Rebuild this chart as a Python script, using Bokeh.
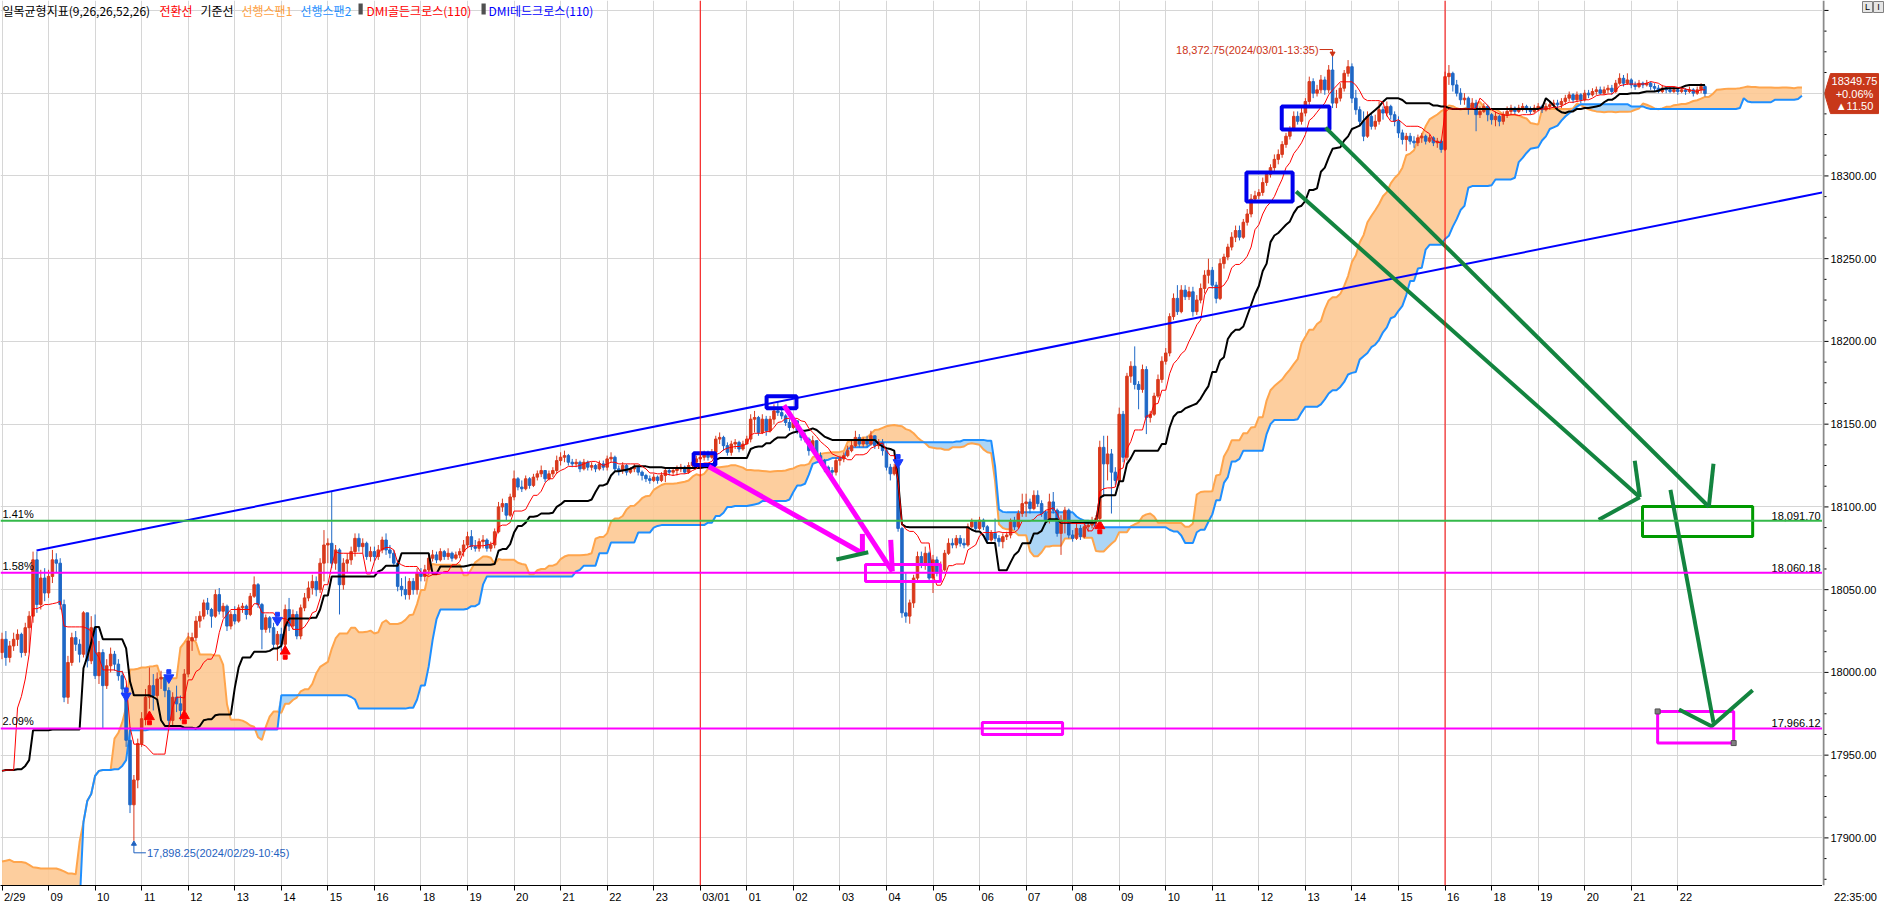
import numpy as np
import pandas as pd
from bokeh.plotting import figure
from bokeh.layouts import row
from bokeh.models import ColumnDataSource, FixedTicker, Range1d, Label, Span, Grid, LinearAxis
from bokeh.core.properties import value
from bokeh.embed import file_html
from bokeh.resources import INLINE

# ---------------- data ----------------
tick_labels = ["2/29", "09", "10", "11", "12", "13", "14", "15", "16", "18", "19", "20", "21", "22", "23",
               "03/01", "01", "02", "03", "04", "05", "06", "07", "08", "09", "10", "11", "12", "13", "14",
               "15", "16", "18", "19", "20", "21", "22"]
bars_per_tick = 12
session_ticks = [15, 31]          # red separators at "03/01" and the second "16"
last_time = "22:35:00"

# bars before the visible window (only feed the indicators)
pre_close = [17918, 17922, 17915, 17920, 17926, 17930, 17924, 17919, 17912, 17916, 17921, 17928, 17932, 17927, 17920,
             17914, 17909, 17913, 17905, 17898, 17860,
             17866, 17862, 17870, 17866, 17875, 17881, 17872, 17868, 17877, 17885, 17890, 17884, 17879, 17886, 17893, 17888,
             17895, 17901, 17896, 17889, 17882, 17876, 17870, 17878, 17885, 17891, 17897, 17904, 17899, 17893, 17887, 17880,
             17874, 17868, 17875, 17882, 17890, 17886, 17879, 17872, 17867, 17873, 17880, 17876, 17870, 17866, 17872, 17878,
             17871, 17865, 17935, 17958, 17975, 17992, 18012]
pre_high = [17924, 17927, 17923, 17924, 17930, 17935, 17931, 17925, 17920, 17919, 17925, 17932, 17937, 17934, 17927,
            17921, 17916, 17917, 17912, 17906, 17900,
            17870, 17868, 17874, 17872, 17879, 17886, 17883, 17874, 17880, 17889, 17895, 17892, 17886, 17890, 17897, 17895,
            17899, 17906, 17903, 17898, 17891, 17884, 17878, 17881, 17888, 17895, 17901, 17908, 17906, 17901, 17895, 17889,
            17882, 17876, 17879, 17886, 17894, 17893, 17889, 17881, 17874, 17877, 17884, 17883, 17878, 17872, 17876, 17882,
            17880, 17872, 17938, 17962, 17988, 17996, 18018]
pre_low = [17912, 17915, 17911, 17913, 17918, 17924, 17920, 17914, 17907, 17908, 17914, 17919, 17926, 17921, 17914,
           17907, 17903, 17905, 17898, 17890, 17780,
           17858, 17859, 17861, 17862, 17863, 17872, 17868, 17861, 17865, 17875, 17883, 17878, 17874, 17877, 17884, 17882,
           17886, 17893, 17892, 17885, 17878, 17872, 17866, 17868, 17876, 17882, 17888, 17895, 17896, 17889, 17883, 17876,
           17870, 17863, 17866, 17873, 17880, 17883, 17876, 17869, 17862, 17864, 17871, 17872, 17866, 17861, 17864, 17870,
           17868, 17860, 17857, 17931, 17945, 17962, 17985]

# 5-minute bars, one row per hour label
close_rows = [
    [18020, 18009, 18016, 18020, 18023, 18012, 18027, 18034, 18068, 18041, 18057, 18048],
    [18058, 18068, 18066, 18041, 17985, 18006, 18021, 18017, 18011, 18036, 18007, 18027],
    [17998, 18012, 17992, 18004, 18011, 18005, 17998, 17990, 17959, 17920, 17935, 17957],
    [17972, 17985, 17992, 17986, 17996, 17997, 17989, 17971, 17985, 17981, 17977, 17999],
    [18019, 18021, 18031, 18034, 18042, 18038, 18034, 18047, 18037, 18040, 18028, 18035],
    [18031, 18039, 18040, 18035, 18046, 18053, 18041, 18026, 18033, 18027, 18017, 18023],
    [18017, 18038, 18028, 18035, 18022, 18039, 18045, 18051, 18055, 18050, 18066, 18077],
    [18078, 18066, 18074, 18053, 18066, 18068, 18073, 18081, 18076, 18078, 18070, 18073],
    [18070, 18074, 18080, 18074, 18072, 18066, 18052, 18050, 18047, 18055, 18050, 18060],
    [18058, 18062, 18069, 18071, 18068, 18073, 18070, 18072, 18069, 18071, 18073, 18077],
    [18082, 18076, 18075, 18079, 18080, 18075, 18077, 18085, 18100, 18102, 18095, 18106],
    [18117, 18112, 18111, 18117, 18113, 18118, 18120, 18122, 18117, 18120, 18122, 18128],
    [18130, 18131, 18127, 18126, 18127, 18123, 18127, 18124, 18125, 18123, 18126, 18124],
    [18129, 18130, 18123, 18122, 18125, 18121, 18123, 18124, 18121, 18119, 18117, 18116],
    [18118, 18116, 18119, 18122, 18121, 18122, 18123, 18124, 18121, 18125, 18127, 18129],
    [18130, 18132, 18130, 18133, 18141, 18142, 18137, 18133, 18138, 18139, 18135, 18138],
    [18141, 18153, 18154, 18145, 18153, 18146, 18153, 18158, 18157, 18155, 18151, 18148],
    [18152, 18146, 18142, 18141, 18134, 18140, 18131, 18128, 18124, 18122, 18121, 18128],
    [18129, 18131, 18134, 18137, 18142, 18138, 18140, 18138, 18143, 18137, 18139, 18134],
    [18124, 18120, 18124, 18087, 18036, 18034, 18042, 18057, 18070, 18065, 18072, 18057],
    [18068, 18060, 18062, 18072, 18078, 18077, 18081, 18078, 18077, 18088, 18091, 18087],
    [18092, 18088, 18080, 18084, 18081, 18079, 18082, 18083, 18091, 18088, 18096, 18102],
    [18103, 18099, 18107, 18102, 18096, 18092, 18103, 18098, 18084, 18092, 18098, 18083],
    [18081, 18087, 18082, 18088, 18089, 18091, 18093, 18136, 18126, 18132, 18121, 18116],
    [18156, 18130, 18179, 18185, 18174, 18171, 18183, 18154, 18156, 18167, 18177, 18188],
    [18193, 18215, 18226, 18218, 18231, 18227, 18230, 18218, 18225, 18232, 18240, 18243],
    [18234, 18226, 18247, 18251, 18257, 18263, 18267, 18263, 18272, 18277, 18286, 18288],
    [18290, 18296, 18301, 18305, 18310, 18313, 18319, 18324, 18328, 18336, 18333, 18338],
    [18345, 18357, 18350, 18352, 18358, 18352, 18364, 18344, 18347, 18353, 18362, 18366],
    [18347, 18340, 18333, 18324, 18336, 18330, 18333, 18340, 18338, 18342, 18337, 18333],
    [18326, 18322, 18324, 18321, 18320, 18323, 18324, 18321, 18323, 18320, 18321, 18316],
    [18360, 18362, 18355, 18350, 18346, 18347, 18341, 18344, 18337, 18339, 18342, 18337],
    [18334, 18336, 18333, 18337, 18339, 18341, 18339, 18341, 18342, 18340, 18339, 18341],
    [18342, 18340, 18342, 18343, 18344, 18343, 18345, 18347, 18349, 18346, 18349, 18346],
    [18350, 18349, 18351, 18352, 18350, 18352, 18353, 18351, 18356, 18359, 18356, 18358],
    [18355, 18354, 18356, 18355, 18356, 18354, 18353, 18351, 18353, 18352, 18351, 18352],
    [18351, 18352, 18351, 18352, 18350, 18352, 18354, 18349.75],
]
high_rows = [
    [18024, 18025, 18019, 18024, 18026, 18024, 18030, 18037, 18073, 18073, 18062, 18063],
    [18062, 18074, 18072, 18069, 18044, 18010, 18024, 18025, 18020, 18037, 18035, 18034],
    [18035, 18019, 18014, 18008, 18015, 18013, 18008, 18001, 17992, 17967, 17938, 17960],
    [17976, 17990, 18003, 17999, 18000, 18001, 17998, 17991, 17988, 17992, 17986, 18002],
    [18024, 18024, 18034, 18037, 18044, 18045, 18039, 18050, 18051, 18042, 18041, 18037],
    [18040, 18041, 18042, 18041, 18048, 18058, 18054, 18042, 18035, 18034, 18030, 18025],
    [18027, 18041, 18045, 18038, 18037, 18041, 18048, 18055, 18059, 18058, 18069, 18086],
    [18081, 18109, 18077, 18075, 18069, 18072, 18076, 18084, 18084, 18081, 18079, 18076],
    [18076, 18077, 18082, 18084, 18077, 18074, 18068, 18057, 18058, 18057, 18057, 18063],
    [18063, 18065, 18072, 18074, 18073, 18075, 18074, 18075, 18073, 18073, 18075, 18080],
    [18085, 18086, 18080, 18081, 18083, 18081, 18079, 18087, 18103, 18105, 18102, 18108],
    [18122, 18118, 18116, 18119, 18118, 18120, 18122, 18125, 18122, 18122, 18124, 18131],
    [18133, 18134, 18132, 18129, 18129, 18128, 18129, 18128, 18127, 18126, 18128, 18128],
    [18131, 18133, 18131, 18125, 18127, 18126, 18124, 18126, 18125, 18122, 18120, 18119],
    [18120, 18119, 18121, 18124, 18124, 18124, 18125, 18126, 18125, 18127, 18129, 18131],
    [18132, 18134, 18134, 18135, 18143, 18145, 18143, 18139, 18140, 18141, 18140, 18140],
    [18143, 18156, 18158, 18155, 18156, 18155, 18155, 18162, 18164, 18159, 18156, 18153],
    [18154, 18152, 18147, 18145, 18142, 18143, 18140, 18133, 18129, 18125, 18124, 18130],
    [18131, 18133, 18137, 18140, 18146, 18144, 18142, 18143, 18146, 18143, 18141, 18141],
    [18136, 18126, 18126, 18127, 18088, 18060, 18044, 18059, 18073, 18073, 18076, 18073],
    [18071, 18070, 18067, 18074, 18081, 18081, 18083, 18083, 18081, 18090, 18093, 18091],
    [18094, 18093, 18089, 18086, 18093, 18083, 18084, 18085, 18093, 18094, 18098, 18108],
    [18108, 18105, 18110, 18110, 18104, 18098, 18108, 18109, 18099, 18095, 18100, 18099],
    [18086, 18090, 18089, 18090, 18091, 18094, 18095, 18140, 18143, 18143, 18135, 18124],
    [18160, 18158, 18181, 18188, 18197, 18176, 18186, 18185, 18158, 18169, 18180, 18191],
    [18196, 18217, 18229, 18234, 18234, 18234, 18233, 18233, 18228, 18235, 18243, 18250],
    [18245, 18236, 18250, 18253, 18259, 18266, 18270, 18270, 18274, 18280, 18289, 18291],
    [18292, 18299, 18303, 18307, 18313, 18316, 18321, 18326, 18330, 18339, 18339, 18341],
    [18347, 18360, 18359, 18355, 18361, 18360, 18367, 18372.75, 18352, 18356, 18364, 18370],
    [18368, 18352, 18342, 18339, 18339, 18338, 18337, 18345, 18342, 18345, 18343, 18339],
    [18336, 18328, 18326, 18326, 18324, 18325, 18326, 18325, 18325, 18324, 18323, 18322],
    [18363, 18367, 18363, 18358, 18353, 18350, 18348, 18347, 18346, 18342, 18344, 18343],
    [18338, 18339, 18337, 18339, 18342, 18343, 18342, 18343, 18344, 18343, 18342, 18343],
    [18344, 18343, 18344, 18345, 18346, 18346, 18347, 18349, 18351, 18350, 18351, 18350],
    [18352, 18352, 18353, 18354, 18354, 18354, 18355, 18355, 18358, 18362, 18361, 18362],
    [18359, 18357, 18358, 18357, 18358, 18357, 18356, 18355, 18355, 18354, 18354, 18354],
    [18353, 18354, 18353, 18354, 18353, 18354, 18356, 18355],
]
low_rows = [
    [18008, 18004, 18006, 18013, 18016, 18009, 18010, 18012, 18030, 18036, 18038, 18043],
    [18045, 18054, 18060, 18038, 17982, 17981, 18004, 18013, 18006, 18009, 18003, 18005],
    [17996, 17993, 17966, 17990, 18000, 18001, 17995, 17986, 17955, 17915, 17898.25, 17930],
    [17955, 17968, 17978, 17977, 17984, 17990, 17985, 17967, 17968, 17976, 17971, 17974],
    [17997, 18013, 18019, 18027, 18032, 18035, 18027, 18033, 18035, 18033, 18025, 18026],
    [18029, 18030, 18036, 18032, 18034, 18045, 18039, 18014, 18024, 18024, 18014, 18007],
    [18013, 18015, 18025, 18026, 18020, 18020, 18037, 18043, 18047, 18046, 18048, 18055],
    [18066, 18063, 18062, 18035, 18050, 18060, 18065, 18070, 18073, 18072, 18068, 18067],
    [18067, 18068, 18072, 18071, 18069, 18064, 18049, 18046, 18044, 18044, 18047, 18047],
    [18055, 18055, 18059, 18067, 18066, 18067, 18068, 18068, 18067, 18068, 18069, 18070],
    [18075, 18074, 18073, 18073, 18075, 18073, 18073, 18075, 18084, 18097, 18092, 18094],
    [18104, 18110, 18109, 18110, 18111, 18112, 18116, 18118, 18115, 18116, 18118, 18120],
    [18125, 18127, 18125, 18124, 18124, 18121, 18122, 18122, 18122, 18121, 18122, 18122],
    [18122, 18127, 18121, 18119, 18120, 18119, 18120, 18121, 18119, 18116, 18115, 18114],
    [18115, 18114, 18115, 18115, 18119, 18119, 18119, 18121, 18120, 18120, 18124, 18126],
    [18127, 18128, 18128, 18129, 18131, 18138, 18134, 18131, 18131, 18135, 18133, 18134],
    [18138, 18139, 18145, 18143, 18144, 18143, 18145, 18150, 18155, 18153, 18149, 18146],
    [18147, 18144, 18140, 18139, 18131, 18133, 18129, 18125, 18121, 18119, 18117, 18119],
    [18125, 18127, 18130, 18133, 18136, 18136, 18136, 18136, 18137, 18135, 18135, 18131],
    [18122, 18116, 18119, 18085, 18033, 18030, 18029.4, 18039, 18055, 18063, 18062, 18054],
    [18048, 18058, 18058, 18061, 18071, 18075, 18075, 18076, 18075, 18076, 18087, 18085],
    [18086, 18086, 18078, 18079, 18079, 18076, 18075, 18080, 18081, 18086, 18087, 18094],
    [18094, 18096, 18098, 18100, 18094, 18089, 18090, 18096, 18082, 18071, 18084, 18081],
    [18079, 18080, 18080, 18081, 18085, 18087, 18089, 18091, 18106, 18116, 18096, 18113],
    [18113, 18127, 18128, 18175, 18171, 18159, 18169, 18144, 18151, 18155, 18166, 18175],
    [18186, 18191, 18213, 18216, 18217, 18225, 18225, 18215, 18216, 18223, 18229, 18235],
    [18232, 18223, 18225, 18244, 18249, 18255, 18260, 18261, 18262, 18270, 18275, 18284],
    [18286, 18288, 18294, 18299, 18303, 18307, 18311, 18317, 18322, 18327, 18331, 18331],
    [18336, 18343, 18347, 18348, 18350, 18349, 18350, 18341, 18341, 18345, 18351, 18360],
    [18344, 18337, 18330, 18321, 18323, 18328, 18328, 18331, 18334, 18336, 18334, 18330],
    [18323, 18319, 18315, 18319, 18317, 18318, 18320, 18319, 18320, 18318, 18317, 18314],
    [18315, 18355, 18351, 18348, 18343, 18343, 18337, 18340, 18327, 18335, 18338, 18333],
    [18331, 18330, 18330, 18331, 18335, 18337, 18337, 18338, 18339, 18338, 18337, 18338],
    [18339, 18338, 18339, 18340, 18341, 18340, 18341, 18343, 18345, 18344, 18345, 18344],
    [18345, 18347, 18348, 18349, 18349, 18349, 18350, 18349, 18350, 18355, 18354, 18355],
    [18353, 18352, 18353, 18353, 18354, 18352, 18351, 18350, 18350, 18350, 18350, 18350],
    [18349, 18350, 18349, 18350, 18348, 18349, 18350, 18348],
]

# DMI cross signals (bar index, marker price)
dmi_golden_bar = [38, 47, 73, 283]
dmi_golden_price = [17972, 17972.6, 18011.6, 18087.4]
dmi_dead_bar = [32, 43, 71, 231]
dmi_dead_price = [17987, 17998, 18032.7, 18128]

# horizontal levels
level_values = [18091.70, 18060.18, 17966.12]
level_pcts = ["1.41%", "1.58%", "2.09%"]
level_colors = ["#35b94a", "#ff00ff", "#ff00ff"]

# price axis
price_ticks = [17900, 17950, 18000, 18050, 18100, 18150, 18200, 18250, 18300, 18350, 18400]
price_box = ["18349.75", "+0.06%", "\u25b211.50"]

# drawn trend line (bar, price)
trend_bar = [8.9, 469.3]
trend_price = [18073.7, 18290.0]

# drawn boxes (bar left, bar right, price bottom, price top)
blue_boxes = dict(l=[178.3, 197.1, 329.9, 320.8], r=[183.9, 204.8, 342.2, 332.7],
                  b=[18125.4, 18159.6, 18328.0, 18284.5], t=[18132.4, 18166.9, 18341.9, 18302.1])
magenta_boxes = dict(l=[222.6, 252.7, 426.8], r=[241.9, 273.4, 446.4],
                     b=[18054.9, 17962.5, 17957.3], t=[18065.2, 17969.7, 17976.4])
green_boxes = dict(l=[422.9], r=[451.3], b=[18082.1], t=[18100.2])

# drawn strokes (bars, prices)
magenta_strokes_x = [[182.2, 221.8], [221.8, 221.8], [201.6, 229.5], [229.1, 229.5]]
magenta_strokes_y = [[18124.4, 18072.0], [18083.7, 18072.0], [18161.3, 18061.1], [18080.1, 18061.1]]
green_strokes_x = [[215.1, 223.3], [333.6, 422.2], [411.6, 422.2], [420.9, 422.2],
                   [341.2, 440.0], [441.2, 440.0], [430.1, 441.2], [432.3, 440.7, 451.3]]
green_strokes_y = [[18068.2, 18072.6], [18290.6, 18105.9], [18092.2, 18105.9], [18127.9, 18105.9],
                   [18329.2, 18100.1], [18126.1, 18100.1], [18110.3, 17969.7], [17977.6, 17967.5, 17989.2]]
handle_bar = [426.8, 446.4]
handle_price = [17976.4, 17957.3]

extreme_times = {"high": "2024/03/01-13:35", "low": "2024/02/29-10:45"}

legend_items = [("일목균형지표(9,26,26,52,26)", "#000000"), ("전환선", "#ff0000"), ("기준선", "#000000"),
                ("선행스팬1", "#ffa040"), ("선행스팬2", "#1e90ff"), ("DMI골든크로스(110)", "#ff0000"),
                ("DMI데드크로스(110)", "#0000ff")]

# ---------------- derived ----------------
close = [v for r in close_rows for v in r]
high = [v for r in high_rows for v in r]
low = [v for r in low_rows for v in r]
assert len(close) == len(high) == len(low) == 440
assert len(pre_close) == len(pre_high) == len(pre_low)

n_pre = len(pre_close)
allC = np.array(pre_close + close, dtype=float)
allH = np.array(pre_high + high, dtype=float)
allL = np.array(pre_low + low, dtype=float)
allO = np.concatenate([[allC[0]], allC[:-1]])
Hs, Ls = pd.Series(allH), pd.Series(allL)
tenkan = ((Hs.rolling(9).max() + Ls.rolling(9).min()) / 2).to_numpy()
kijun = ((Hs.rolling(26).max() + Ls.rolling(26).min()) / 2).to_numpy()
span1 = (tenkan + kijun) / 2
span2 = ((Hs.rolling(52).max() + Ls.rolling(52).min()) / 2).to_numpy()
SHIFT = 25
bar_all = np.arange(len(allC)) - n_pre

vis = bar_all >= 0
bx = bar_all[vis]
O, C, Hh, Ll = allO[vis], allC[vis], allH[vis], allL[vis]
up = C > O
RED, BLUE = "#d9391c", "#1f68c6"
cols = np.where(up, RED, BLUE)

sx = bar_all + SHIFT
sm = (sx >= -1) & ~np.isnan(span1) & ~np.isnan(span2)
sx, s1, s2 = sx[sm], span1[sm], span2[sm]

# ---------------- layout constants ----------------
FONT = "Liberation Sans"
KFONT = "Noto Sans CJK KR"
TOTAL_W, TOTAL_H = 1884, 905
AXIS_W = 62
BOTTOM = 20
FRAME_W, FRAME_H = TOTAL_W - AXIS_W, TOTAL_H - BOTTOM
X0, X1 = -0.387, 469.3
Y1 = 18406.0
Y0 = 18300 - (FRAME_H - 175.4) / 1.655
kx = FRAME_W / (X1 - X0)
ky = FRAME_H / (Y1 - Y0)
yr = Range1d(Y0, Y1)

p = figure(width=FRAME_W, height=TOTAL_H, output_backend="svg", toolbar_location=None,
           x_range=Range1d(X0, X1), y_range=yr, y_axis_location=None,
           min_border_left=0, min_border_top=0, min_border_bottom=BOTTOM, min_border_right=0,
           background_fill_color="white", border_fill_color="white", outline_line_color=None)

# x axis: tick marks at the hours, labels placed just right of each tick
tick_pos = [i * bars_per_tick for i in range(len(tick_labels))]
char_w = {"/": 3.06}
label_w = [sum(char_w.get(ch, 6.12) for ch in lab) for lab in tick_labels]
label_pos = [t + (2 + w / 2) / kx for t, w in zip(tick_pos, label_w)]

xa = p.xaxis[0]
xa.ticker = FixedTicker(ticks=tick_pos, minor_ticks=[])
xa.major_label_overrides = {t: "" for t in tick_pos}
xa.major_label_text_font_size = "0px"
xa.major_label_standoff = 0
xa.major_tick_out = 5
xa.major_tick_in = 0
xa.minor_tick_out = 0
xa.axis_line_color = "black"
xa.major_tick_line_color = "black"

xl = LinearAxis(ticker=FixedTicker(ticks=label_pos, minor_ticks=[]),
                major_label_overrides={lp: lab for lp, lab in zip(label_pos, tick_labels)},
                axis_line_color=None, major_tick_line_color=None, minor_tick_line_color=None,
                major_tick_out=0, major_tick_in=0, major_label_standoff=0,
                major_label_text_font=FONT, major_label_text_font_size="11px",
                major_label_text_color="black")
p.add_layout(xl, "below")

p.xgrid.ticker = FixedTicker(ticks=tick_pos)
p.xgrid.grid_line_color = "#d6d6d6"
for g in p.ygrid:
    g.visible = False
p.add_layout(Grid(dimension=1, ticker=FixedTicker(ticks=price_ticks), grid_line_color="#d6d6d6"))

# cloud
up_top = np.where(s1 >= s2, s1, s2)
dn_top = np.where(s2 > s1, s2, s1)
p.varea(x=sx, y1=s2, y2=up_top, fill_color="#fdc994", fill_alpha=0.9)
p.varea(x=sx, y1=s1, y2=dn_top, fill_color="#a3d0f5", fill_alpha=0.9)
p.line(sx, s1, line_color="#ffa54c", line_width=2)
p.line(sx, s2, line_color="#1e8fff", line_width=2)

# candles
src = ColumnDataSource(dict(x=bx, h=Hh, l=Ll, top=np.maximum(O, C), bot=np.minimum(O, C), col=cols))
p.segment(x0="x", y0="l", x1="x", y1="h", line_color="col", line_width=1, source=src)
p.vbar(x="x", width=0.65, top="top", bottom="bot", fill_color="col", line_color="col", line_width=1, source=src)

# kijun / tenkan
p.line(bx, kijun[vis], line_color="black", line_width=2)
p.line(bx, tenkan[vis], line_color="#ff0000", line_width=1)

# DMI signals (block arrows: head + stem)
p.scatter(dmi_golden_bar, [v + 2 / ky for v in dmi_golden_price], marker="triangle", size=10,
          fill_color="#ff0000", line_color="#ff0000")
p.scatter(dmi_golden_bar, [v - 4 / ky for v in dmi_golden_price], marker="square", size=4,
          fill_color="#ff0000", line_color="#ff0000")
p.scatter(dmi_dead_bar, [v - 2 / ky for v in dmi_dead_price], marker="inverted_triangle", size=10,
          fill_color="#1a3cff", line_color="#1a3cff")
p.scatter(dmi_dead_bar, [v + 4 / ky for v in dmi_dead_price], marker="square", size=4,
          fill_color="#1a3cff", line_color="#1a3cff")

# trend line
p.line(trend_bar, trend_price, line_color="#0000ff", line_width=2)

# drawn shapes
p.quad(left=blue_boxes["l"], right=blue_boxes["r"], bottom=blue_boxes["b"], top=blue_boxes["t"],
       fill_color=None, line_color="#0000ee", line_width=4)
p.quad(left=magenta_boxes["l"], right=magenta_boxes["r"], bottom=magenta_boxes["b"], top=magenta_boxes["t"],
       fill_color=None, line_color="#ff00ff", line_width=3)
p.quad(left=green_boxes["l"], right=green_boxes["r"], bottom=green_boxes["b"], top=green_boxes["t"],
       fill_color=None, line_color="#009a00", line_width=3)
p.multi_line(magenta_strokes_x, magenta_strokes_y, line_color="#ff00ff", line_width=5)
p.multi_line(green_strokes_x, green_strokes_y, line_color="#13843f", line_width=4)
p.scatter(handle_bar, handle_price, marker="square", size=5, fill_color="#808080", line_color="#505050")

# session separators and levels
for k in session_ticks:
    p.add_layout(Span(location=k * bars_per_tick, dimension="height", line_color="#ff0000", line_width=1))
for v, c in zip(level_values, level_colors):
    p.add_layout(Span(location=v, dimension="width", line_color=c, line_width=2))
p.text(x=[X0] * 3, y=level_values, text=level_pcts, text_align="left", text_baseline="bottom",
       x_offset=2, y_offset=-1, text_font=value(FONT), text_font_size="11px", text_color="black")
p.text(x=[X1] * 3, y=level_values, text=[f"{v:,.2f}" for v in level_values], text_align="right",
       text_baseline="bottom", x_offset=-2, y_offset=-1, text_font=value(FONT), text_font_size="11px",
       text_color="black")

# extreme annotations
hi_i = int(np.argmax(high)); hi_v = high[hi_i]
lo_i = int(np.argmin(low)); lo_v = low[lo_i]
HI_COL, LO_COL = "#cc3316", "#1f62c0"
p.line([hi_i - 13 / kx, hi_i, hi_i], [hi_v + 6 / ky, hi_v + 6 / ky, hi_v + 2 / ky], line_color=HI_COL, line_width=1)
p.scatter([hi_i], [hi_v + 2 / ky], marker="inverted_triangle", size=5, fill_color=HI_COL, line_color=HI_COL)
p.text(x=[hi_i - 14 / kx], y=[hi_v + 6 / ky], text=[f"{hi_v:,.2f}({extreme_times['high']})"],
       text_align="right", text_baseline="middle", text_font=value(FONT), text_font_size="11px", text_color=HI_COL)
p.line([lo_i, lo_i, lo_i + 12 / kx], [lo_v - 3 / ky, lo_v - 12 / ky, lo_v - 12 / ky], line_color=LO_COL, line_width=1)
p.scatter([lo_i], [lo_v - 3 / ky], marker="triangle", size=5, fill_color=LO_COL, line_color=LO_COL)
p.text(x=[lo_i + 13 / kx], y=[lo_v - 12 / ky], text=[f"{lo_v:,.2f}({extreme_times['low']})"],
       text_align="left", text_baseline="middle", text_font=value(FONT), text_font_size="11px", text_color=LO_COL)

# legend strip
legend_x = [2, 159, 200, 241, 300, 366, 488]
for (txt, col), lx in zip(legend_items, legend_x):
    p.add_layout(Label(x=lx, y=Y1 - 1 / ky, x_units="screen", y_units="data", text=txt, text_color=col,
                       text_font=KFONT, text_font_size="12px", text_baseline="top", text_align="left"))
for ix in [358, 481]:
    p.add_layout(Label(x=ix, y=Y1 - 3 / ky, x_units="screen", y_units="data", text=" ", text_font_size="8px",
                       background_fill_color="#505050", text_baseline="top", padding=1))

# ---------------- price axis panel (shares the price range) ----------------
p2 = figure(width=AXIS_W, height=TOTAL_H, output_backend="svg", toolbar_location=None,
            x_range=Range1d(0, AXIS_W), y_range=yr, y_axis_location=None,
            min_border_left=0, min_border_right=0, min_border_top=0, min_border_bottom=BOTTOM,
            background_fill_color="white", border_fill_color="white", outline_line_color=None)
p2.grid.visible = False
ta = p2.xaxis[0]
ta.ticker = FixedTicker(ticks=[33], minor_ticks=[])
ta.major_label_overrides = {33: last_time}
ta.axis_line_color = None
ta.major_tick_line_color = None
ta.minor_tick_line_color = None
ta.major_tick_out = 0
ta.major_tick_in = 0
ta.major_label_standoff = 5
ta.major_label_text_font = FONT
ta.major_label_text_font_size = "11px"
ta.major_label_text_color = "black"

p2.add_layout(Span(location=1, dimension="height", line_color="#8a8a8a", line_width=2))
minor_vals = [v for v in np.arange(17875, 18406, 12.5) if v not in price_ticks]
p2.segment(x0=[1] * len(price_ticks), y0=price_ticks, x1=[6] * len(price_ticks), y1=price_ticks,
           line_color="black", line_width=1)
p2.segment(x0=[1] * len(minor_vals), y0=minor_vals, x1=[4] * len(minor_vals), y1=minor_vals,
           line_color="black", line_width=1)
shown = [v for v in price_ticks if v <= 18300]
p2.text(x=[8] * len(shown), y=shown, text=[f"{v:.2f}" for v in shown], text_baseline="middle",
        text_align="left", text_font=value(FONT), text_font_size="11px", text_color="black")

last = close[-1]
p2.patch(x=[2, 8, 56, 56, 8], y=[last, last + 20 / ky, last + 20 / ky, last - 20 / ky, last - 20 / ky],
         fill_color="#c8381a", line_color="#c8381a")
p2.text(x=[32] * 3, y=[last + 12.5 / ky, last, last - 12.5 / ky], text=price_box, text_align="center",
        text_baseline="middle", text_font=value(FONT), text_font_size="11px", text_color="white")

p2.quad(left=[40, 51], right=[50, 61], top=[Y1 - 1 / ky] * 2, bottom=[Y1 - 12 / ky] * 2,
        fill_color="#e6e6e6", line_color="#808080")
p2.text(x=[45, 56], y=[Y1 - 6.5 / ky] * 2, text=["L", "I"], text_align="center", text_baseline="middle",
        text_font=value(FONT), text_font_size="9px", text_color="black")

layout = row(p, p2, spacing=0)
open("out.html", "w").write(file_html(layout, INLINE))
